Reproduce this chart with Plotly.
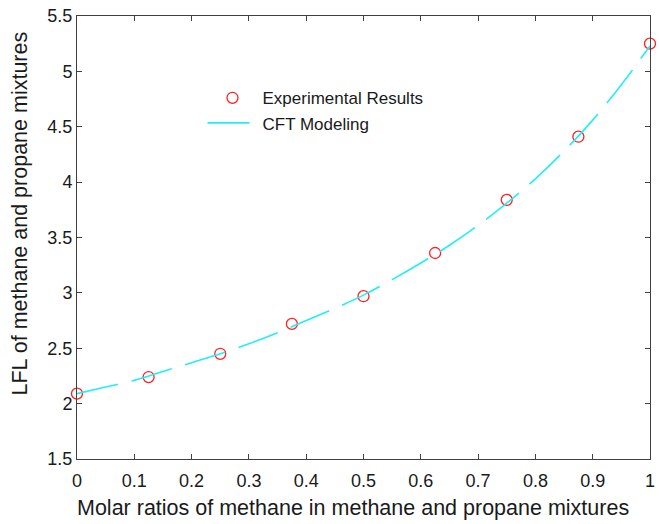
import plotly.graph_objects as go

# Experimental results
exp_x = [0, 0.125, 0.25, 0.375, 0.5, 0.625, 0.75, 0.875, 1.0]
exp_y = [2.09, 2.24, 2.45, 2.72, 2.97, 3.36, 3.84, 4.41, 5.25]

# CFT modeling curve
cft_x = [0, 0.05, 0.1, 0.15, 0.2, 0.25, 0.3, 0.35, 0.4, 0.45, 0.5,
         0.55, 0.6, 0.65, 0.7, 0.75, 0.8, 0.85, 0.9, 0.95, 1.0]
cft_y = [2.09, 2.15, 2.21, 2.29, 2.37, 2.45, 2.54, 2.64, 2.75, 2.86, 2.98,
         3.12, 3.27, 3.43, 3.61, 3.81, 4.03, 4.28, 4.56, 4.88, 5.23]

x_ticks = [0, 0.1, 0.2, 0.3, 0.4, 0.5, 0.6, 0.7, 0.8, 0.9, 1]
x_ticklabels = ["0", "0.1", "0.2", "0.3", "0.4", "0.5", "0.6", "0.7", "0.8", "0.9", "1"]
y_ticks = [1.5, 2, 2.5, 3, 3.5, 4, 4.5, 5, 5.5]
y_ticklabels = ["1.5", "2", "2.5", "3", "3.5", "4", "4.5", "5", "5.5"]

x_title = "Molar ratios of methane in methane and propane mixtures"
y_title = "LFL of methane and propane mixtures"

FONT = "Liberation Sans, Arial, Helvetica, sans-serif"
TXT = "#1a1a1a"

fig = go.Figure()
fig.add_trace(go.Scatter(
    x=exp_x, y=exp_y, mode="markers", name="Experimental Results",
    marker=dict(symbol="circle-open", size=11, color="#ff2020",
                line=dict(width=1.3, color="#ff2020")),
    cliponaxis=False,
))
fig.add_trace(go.Scatter(
    x=cft_x, y=cft_y, mode="lines", name="CFT Modeling",
    line=dict(color="#22eef6", width=1.6, dash="42px,14px", shape="spline"),
    cliponaxis=False,
))

axis_common = dict(
    showline=True, linecolor="#404040", linewidth=1, mirror="ticks",
    ticks="inside", ticklen=5, tickwidth=1, tickcolor="#404040",
    showgrid=False, zeroline=False, ticklabeloverflow="allow",
    tickfont=dict(family=FONT, size=18, color=TXT),
)

W, H = 659, 524
ML, MR, MT, MB = 77, 4, 16, 65
PW, PH = W - ML - MR, H - MT - MB

fig.update_layout(
    width=W, height=H,
    margin=dict(l=ML, r=MR, t=MT, b=MB),
    paper_bgcolor="white", plot_bgcolor="white",
    font=dict(family=FONT, color=TXT),
    xaxis=dict(range=[0, 1], tickvals=x_ticks, ticktext=x_ticklabels,
               ticklabelstandoff=5, **axis_common),
    yaxis=dict(range=[1.5, 5.5], tickvals=y_ticks, ticktext=y_ticklabels,
               **axis_common),
    legend=dict(x=0.219, y=0.855, xanchor="left", yanchor="top",
                bgcolor="rgba(0,0,0,0)", borderwidth=0,
                font=dict(family=FONT, size=17, color=TXT),
                itemwidth=50, tracegroupgap=2),
    showlegend=True,
    annotations=[
        dict(text=x_title, xref="paper", yref="paper",
             x=(355 - ML) / PW, y=-(508 - (MT + PH)) / PH,
             xanchor="center", yanchor="middle", showarrow=False,
             font=dict(family=FONT, size=21.5, color=TXT)),
        dict(text=y_title, xref="paper", yref="paper",
             x=-(ML - 19) / PW, y=(MT + PH - 214) / PH,
             xanchor="center", yanchor="middle", showarrow=False, textangle=-90,
             font=dict(family=FONT, size=21.5, color=TXT)),
    ],
)

fig.write_html("out.html")
